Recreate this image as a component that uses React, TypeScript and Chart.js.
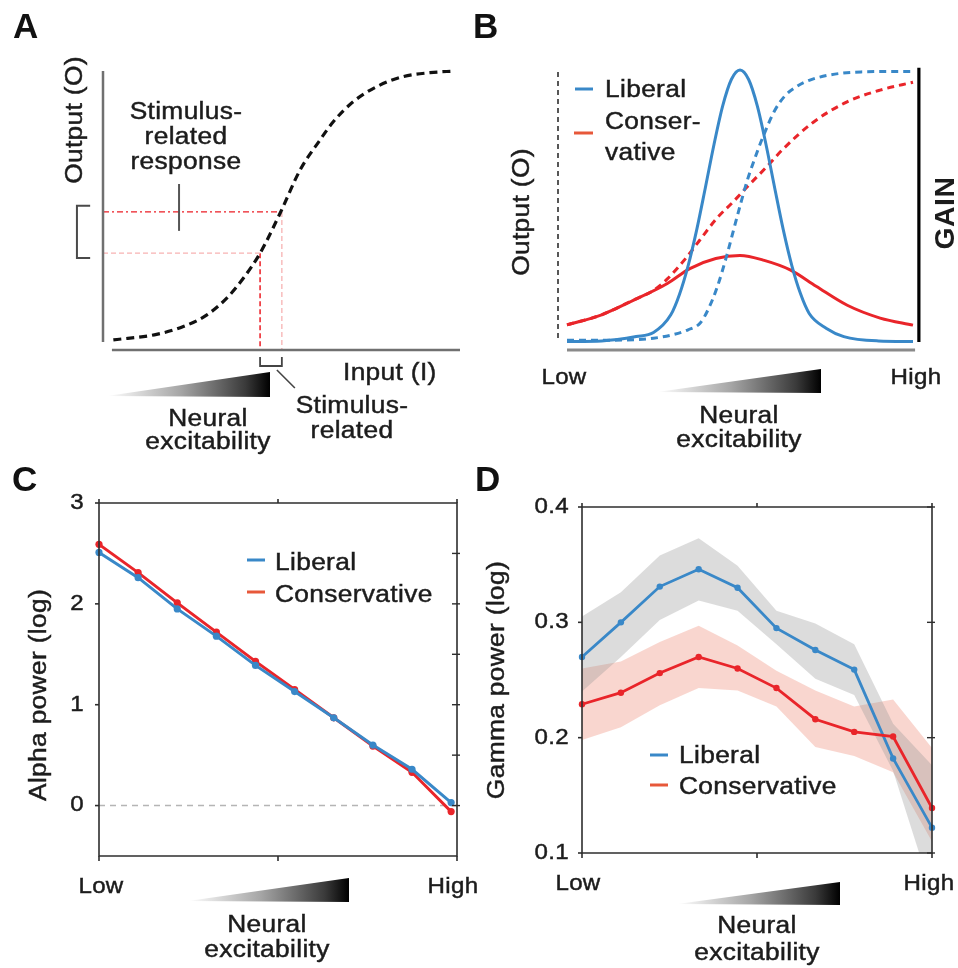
import React, { useEffect, useRef } from 'react';
import { Chart, registerables } from 'chart.js';

Chart.register(...registerables);

const W = 958;
const H = 968;
const FONT = '"Liberation Sans", Arial, Helvetica, sans-serif';
const INK = '#1c1c1c';
const BLUE = 'rgb(57,136,200)';
const RED = 'rgb(233,37,42)';
const LEGEND_RED = 'rgb(231,88,58)';
const BOX = '#2e2e2e';

// ---------- Panel A: input-output sigmoid ----------
const aInput = [0.29, 1.5, 2.25, 2.9, 3.46, 3.93, 4.4, 4.96, 5.52, 6.08, 6.45, 7.01, 7.67, 8.41, 9.16, 9.86];
const aOutput = [0.036, 0.056, 0.084, 0.125, 0.185, 0.257, 0.347, 0.49, 0.645, 0.753, 0.818, 0.89, 0.944, 0.98, 0.994, 1.0];
const aStimInput = [4.4, 5.01];
const aStimOutput = [0.347, 0.495];

// ---------- Panel B: model curves ----------
const bLiberalX = [0, 0.1, 0.2, 0.25, 0.3, 0.325, 0.35, 0.375, 0.4, 0.425, 0.45, 0.475, 0.5, 0.525, 0.55, 0.575, 0.6, 0.625, 0.65, 0.675, 0.7, 0.75, 0.8, 0.9, 1.0];
const bLiberalGain = [0.002, 0.004, 0.02, 0.035, 0.1, 0.175, 0.28, 0.413, 0.568, 0.727, 0.868, 0.965, 1.0, 0.965, 0.868, 0.727, 0.568, 0.413, 0.28, 0.177, 0.105, 0.05, 0.02, 0.004, 0.002];
const bLiberalOutX = [0, 0.1, 0.2, 0.25, 0.3, 0.35, 0.385, 0.41, 0.435, 0.46, 0.48, 0.5, 0.52, 0.54, 0.565, 0.6, 0.63, 0.665, 0.7, 0.76, 0.85, 1.0];
const bLiberalOut = [0.006, 0.006, 0.009, 0.014, 0.025, 0.045, 0.07, 0.125, 0.205, 0.31, 0.405, 0.5, 0.59, 0.665, 0.75, 0.85, 0.905, 0.94, 0.962, 0.982, 0.993, 0.995];
const bConservX = [0, 0.1, 0.19, 0.29, 0.355, 0.43, 0.5, 0.57, 0.645, 0.72, 0.81, 0.905, 1.0];
const bConservGain = [0.063, 0.1, 0.152, 0.215, 0.27, 0.307, 0.318, 0.3, 0.265, 0.205, 0.135, 0.088, 0.062];
const bConservOutX = [0, 0.1, 0.19, 0.25, 0.29, 0.346, 0.384, 0.433, 0.48, 0.519, 0.577, 0.625, 0.712, 0.808, 0.905, 1.0];
const bConservOut = [0.063, 0.1, 0.153, 0.19, 0.232, 0.312, 0.375, 0.455, 0.515, 0.568, 0.644, 0.71, 0.808, 0.882, 0.926, 0.955];

// ---------- Panel C: alpha power ----------
const levels = [0, 1, 2, 3, 4, 5, 6, 7, 8, 9];
const cLiberal = [2.51, 2.26, 1.95, 1.68, 1.39, 1.13, 0.87, 0.6, 0.36, 0.03];
const cConservative = [2.59, 2.31, 2.01, 1.72, 1.43, 1.15, 0.87, 0.59, 0.33, -0.06];
const cTicks = [0, 1, 2, 3];
const cRightTicks = [0, 0.5, 1, 1.5, 2, 2.5];

// ---------- Panel D: gamma power ----------
const dLiberal = [0.27, 0.3, 0.331, 0.346, 0.33, 0.295, 0.276, 0.259, 0.182, 0.122];
const dLiberalUpper = [0.305, 0.326, 0.358, 0.373, 0.349, 0.31, 0.299, 0.281, 0.212, 0.176];
const dLiberalLower = [0.24, 0.27, 0.302, 0.319, 0.31, 0.281, 0.251, 0.237, 0.171, 0.065];
const dConservative = [0.229, 0.239, 0.256, 0.27, 0.26, 0.243, 0.216, 0.205, 0.201, 0.139];
const dConservativeUpper = [0.26, 0.266, 0.283, 0.297, 0.28, 0.258, 0.241, 0.227, 0.233, 0.191];
const dConservativeLower = [0.198, 0.209, 0.228, 0.243, 0.241, 0.227, 0.192, 0.184, 0.17, 0.11];
const dTicks = [0.1, 0.2, 0.3, 0.4];
const dTickLabels = ['0.1', '0.2', '0.3', '0.4'];

type Pt = { x: number; y: number };
const pts = (xs: number[], ys: number[]): Pt[] => xs.map((x, i) => ({ x, y: ys[i] }));

type TextOpts = {
  size?: number;
  bold?: boolean;
  align?: CanvasTextAlign;
  baseline?: CanvasTextBaseline;
  rotate?: boolean;
  spacing?: number;
  stretch?: number;
  color?: string;
};

function drawText(ctx: CanvasRenderingContext2D, str: string, x: number, y: number, o: TextOpts = {}) {
  const size = o.size ?? 23.5;
  ctx.save();
  ctx.font = `${o.bold ? 'bold ' : ''}${size}px ${FONT}`;
  (ctx as any).letterSpacing = `${o.spacing ?? 0.3}px`;
  ctx.fillStyle = o.color ?? INK;
  ctx.strokeStyle = o.color ?? INK;
  ctx.lineWidth = o.bold ? 0 : 0.45;
  ctx.textAlign = o.align ?? 'left';
  ctx.textBaseline = o.baseline ?? 'alphabetic';
  ctx.translate(x, y);
  if (o.rotate) ctx.rotate(-Math.PI / 2);
  ctx.scale(o.stretch ?? 1.12, 1);
  ctx.fillText(str, 0, 0);
  if (!o.bold) ctx.strokeText(str, 0, 0);
  ctx.restore();
}

function seg(ctx: CanvasRenderingContext2D, p: number[][], color: string, width: number, dash: number[] = []) {
  ctx.save();
  ctx.strokeStyle = color;
  ctx.lineWidth = width;
  ctx.setLineDash(dash);
  ctx.beginPath();
  p.forEach(([x, y], i) => (i ? ctx.lineTo(x, y) : ctx.moveTo(x, y)));
  ctx.stroke();
  ctx.restore();
}

function wedge(ctx: CanvasRenderingContext2D, x0: number, x1: number, yb: number, yt: number) {
  const g = ctx.createLinearGradient(x0, 0, x1, 0);
  g.addColorStop(0, '#ffffff');
  g.addColorStop(0.45, '#a6a6a6');
  g.addColorStop(0.85, '#3a3a3a');
  g.addColorStop(1, '#000000');
  ctx.save();
  ctx.fillStyle = g;
  ctx.beginPath();
  ctx.moveTo(x0, yb - 1);
  ctx.lineTo(x1, yt);
  ctx.lineTo(x1, yb);
  ctx.closePath();
  ctx.fill();
  ctx.restore();
}

function excitability(ctx: CanvasRenderingContext2D, cx: number, b1: number, b2: number) {
  drawText(ctx, 'Neural', cx, b1, { align: 'center' });
  drawText(ctx, 'excitability', cx, b2, { align: 'center' });
}

function panelLetter(ctx: CanvasRenderingContext2D, s: string, x: number, y: number) {
  drawText(ctx, s, x, y, { size: 35, bold: true, spacing: 0, stretch: 1, color: '#111' });
}

const ds = (data: Pt[], color: string, width: number, extra: Record<string, unknown> = {}) => ({
  data,
  borderColor: color,
  backgroundColor: color,
  borderWidth: width,
  pointRadius: 0,
  fill: false,
  tension: 0,
  clip: false as const,
  ...extra,
});

function baseOptions(pad: { left: number; top: number; right: number; bottom: number }, xr: number[], yr: number[]) {
  return {
    responsive: false,
    animation: false as const,
    events: [] as any[],
    layout: { padding: pad },
    plugins: { legend: { display: false }, tooltip: { enabled: false } },
    scales: {
      x: { type: 'linear' as const, display: false, min: xr[0], max: xr[1] },
      y: { type: 'linear' as const, display: false, min: yr[0], max: yr[1] },
    },
  };
}

function scalesOf(chart: any) {
  const xs = chart.scales.x;
  const ys = chart.scales.y;
  return {
    X: (v: number) => xs.getPixelForValue(v) as number,
    Y: (v: number) => ys.getPixelForValue(v) as number,
  };
}

// ---------- plugins ----------
const panelAPlugin = {
  id: 'panelA',
  afterDraw(chart: any) {
    const ctx: CanvasRenderingContext2D = chart.ctx;
    const { X, Y } = scalesOf(chart);
    seg(ctx, [[X(0), Y(1.0)], [X(0), Y(0.029)]], '#707070', 2.5);
    seg(ctx, [[X(0.25), Y(0)], [X(10), Y(0)]], '#707070', 2.5);
    // output bracket
    seg(ctx, [[X(-0.36), Y(0.517)], [X(-0.73), Y(0.517)], [X(-0.73), Y(0.33)], [X(-0.36), Y(0.33)]], '#4a4a4a', 2);
    // pointer tick
    seg(ctx, [[X(2.13), Y(0.595)], [X(2.13), Y(0.427)]], '#555555', 2);
    // input bracket
    const y0 = Y(0);
    const i1 = X(aStimInput[0]);
    const i2 = X(aStimInput[1]);
    seg(ctx, [[i1, y0 + 7], [i1, y0 + 16], [i2, y0 + 16], [i2, y0 + 7]], '#444444', 1.8);
    seg(ctx, [[i2 - 5, y0 + 20], [i2 + 13, y0 + 38]], '#444444', 1.6);

    panelLetter(ctx, 'A', 13, 38);
    drawText(ctx, 'Output (O)', 76, 120, { rotate: true, align: 'center', baseline: 'middle' });
    drawText(ctx, 'Stimulus-', 186, 119, { align: 'center' });
    drawText(ctx, 'related', 186, 144, { align: 'center' });
    drawText(ctx, 'response', 186, 169, { align: 'center' });
    drawText(ctx, 'Input (I)', 343, 380);
    drawText(ctx, 'Stimulus-', 352, 413, { align: 'center' });
    drawText(ctx, 'related', 352, 438, { align: 'center' });
    wedge(ctx, 107, 270, 397, 372);
    excitability(ctx, 208, 426, 449);
  },
};

const panelBPlugin = {
  id: 'panelB',
  afterDraw(chart: any) {
    const ctx: CanvasRenderingContext2D = chart.ctx;
    const { X, Y } = scalesOf(chart);
    seg(ctx, [[X(-0.026), Y(0.993)], [X(-0.026), Y(0)]], '#111', 1.4, [5, 4]);
    seg(ctx, [[X(1.017), Y(1.008)], [X(1.017), Y(0)]], '#000', 3.2);
    seg(ctx, [[X(0), Y(-0.0294)], [X(1.006), Y(-0.0294)]], '#8a8a8a', 3);

    seg(ctx, [[575, 89], [593, 89]], BLUE, 3);
    seg(ctx, [[574, 133], [593, 133]], LEGEND_RED, 3);
    drawText(ctx, 'Liberal', 605, 97);
    drawText(ctx, 'Conser-', 605, 129);
    drawText(ctx, 'vative', 605, 160);

    panelLetter(ctx, 'B', 473, 38);
    drawText(ctx, 'Output (O)', 523, 212, { rotate: true, align: 'center', baseline: 'middle' });
    drawText(ctx, 'GAIN', 947, 213, { rotate: true, align: 'center', baseline: 'middle', bold: true, size: 27, spacing: 0.5, stretch: 1.05 });
    drawText(ctx, 'Low', 564, 384, { align: 'center', size: 21.5 });
    drawText(ctx, 'High', 916, 384, { align: 'center', size: 21.5 });
    wedge(ctx, 657, 821, 393, 369);
    excitability(ctx, 739, 423, 447);
  },
};

const panelCPlugin = {
  id: 'panelC',
  afterDraw(chart: any) {
    const ctx: CanvasRenderingContext2D = chart.ctx;
    const { X, Y } = scalesOf(chart);
    const l = X(0), r = X(9.15), t = Y(3), b = Y(-0.5), m = X(4.575);
    seg(ctx, [[l, t], [r, t], [r, b], [l, b], [l, t]], BOX, 1.6);
    cTicks.forEach((v) => {
      seg(ctx, [[l - 4, Y(v)], [l, Y(v)]], BOX, 1.6);
      drawText(ctx, String(v), 84, Y(v), { size: 21.5, align: 'right', baseline: 'middle' });
    });
    cRightTicks.forEach((v) => seg(ctx, [[r - 5, Y(v)], [r + 3, Y(v)]], BOX, 1.4));
    [l, m, r].forEach((x) => {
      seg(ctx, [[x, b], [x, b + 5]], BOX, 1.6);
      seg(ctx, [[x, t - 4], [x, t]], BOX, 1.6);
    });

    seg(ctx, [[247, 560], [265, 560]], BLUE, 3);
    seg(ctx, [[247, 592], [265, 592]], LEGEND_RED, 3);
    drawText(ctx, 'Liberal', 275, 570);
    drawText(ctx, 'Conservative', 275, 602);

    panelLetter(ctx, 'C', 12, 491);
    drawText(ctx, 'Alpha power (log)', 40, 695, { rotate: true, align: 'center', baseline: 'middle' });
    drawText(ctx, 'Low', 101, 893, { align: 'center', size: 21.5 });
    drawText(ctx, 'High', 453, 893, { align: 'center', size: 21.5 });
    wedge(ctx, 188, 349, 902, 878);
    excitability(ctx, 267, 932, 957);
  },
};

const panelDPlugin = {
  id: 'panelD',
  afterDraw(chart: any) {
    const ctx: CanvasRenderingContext2D = chart.ctx;
    const { X, Y } = scalesOf(chart);
    const l = X(0), r = X(9), t = Y(0.4), b = Y(0.1), m = X(4.5);
    seg(ctx, [[l, t], [r, t], [r, b], [l, b], [l, t]], BOX, 1.6);
    dTicks.forEach((v, i) => {
      seg(ctx, [[l - 4, Y(v)], [l, Y(v)]], BOX, 1.6);
      seg(ctx, [[r - 5, Y(v)], [r + 3, Y(v)]], BOX, 1.4);
      drawText(ctx, dTickLabels[i], 569, Y(v), { size: 21.5, align: 'right', baseline: 'middle' });
    });
    [l, m, r].forEach((x) => {
      seg(ctx, [[x, b], [x, b + 5]], BOX, 1.6);
      seg(ctx, [[x, t - 4], [x, t]], BOX, 1.6);
    });

    seg(ctx, [[650, 755], [668, 755]], BLUE, 3);
    seg(ctx, [[650, 785], [668, 785]], LEGEND_RED, 3);
    drawText(ctx, 'Liberal', 679, 763);
    drawText(ctx, 'Conservative', 679, 794);

    panelLetter(ctx, 'D', 475, 491);
    drawText(ctx, 'Gamma power (log)', 498, 680, { rotate: true, align: 'center', baseline: 'middle' });
    drawText(ctx, 'Low', 578, 890, { align: 'center', size: 21.5 });
    drawText(ctx, 'High', 929, 890, { align: 'center', size: 21.5 });
    wedge(ctx, 677, 840, 905, 882);
    excitability(ctx, 757, 933, 960);
  },
};

// ---------- configs ----------
function configA(): any {
  return {
    type: 'line',
    data: {
      datasets: [
        { ...ds(pts(aInput, aOutput), '#111111', 3.2), borderDash: [8, 5], cubicInterpolationMode: 'monotone', order: 0 },
        { ...ds([{ x: 0, y: aStimOutput[1] }, { x: aStimInput[1], y: aStimOutput[1] }], 'rgb(236,28,36)', 1.4), borderDash: [6, 3, 2, 3], order: 1 },
        { ...ds([{ x: 0, y: aStimOutput[0] }, { x: aStimInput[0], y: aStimOutput[0] }], 'rgb(247,178,178)', 1.3), borderDash: [5, 3], order: 1 },
        { ...ds([{ x: aStimInput[0], y: aStimOutput[0] }, { x: aStimInput[0], y: 0 }], 'rgb(236,28,36)', 1.5), borderDash: [5, 3], order: 1 },
        { ...ds([{ x: aStimInput[1], y: aStimOutput[1] }, { x: aStimInput[1], y: 0 }], 'rgb(247,178,178)', 1.3), borderDash: [5, 3], order: 1 },
      ],
    },
    options: baseOptions({ left: 103, top: 71, right: 498, bottom: 618 }, [0, 10], [0, 1]),
    plugins: [panelAPlugin],
  };
}

function configB(): any {
  return {
    type: 'line',
    data: {
      datasets: [
        { ...ds(pts(bLiberalX, bLiberalGain), BLUE, 3), cubicInterpolationMode: 'monotone', order: 0 },
        { ...ds(pts(bConservX, bConservGain), RED, 3), cubicInterpolationMode: 'monotone', order: 2 },
        { ...ds(pts(bLiberalOutX, bLiberalOut), BLUE, 3), borderDash: [7, 5], cubicInterpolationMode: 'monotone', order: 1 },
        { ...ds(pts(bConservOutX, bConservOut), RED, 3), borderDash: [7, 5], cubicInterpolationMode: 'monotone', order: 3 },
      ],
    },
    options: baseOptions({ left: 567, top: 70, right: 45, bottom: 618 }, [0, 1], [-0.0294, 1]),
    plugins: [panelBPlugin],
  };
}

function configC(): any {
  const line = (ys: number[], color: string, order: number) => ({
    ...ds(pts(levels, ys), color, 3),
    pointRadius: 3.6,
    pointBorderWidth: 0,
    pointBackgroundColor: color,
    order,
  });
  return {
    type: 'line',
    data: {
      datasets: [
        line(cLiberal, BLUE, 0),
        line(cConservative, RED, 1),
        { ...ds([{ x: 0, y: 0 }, { x: 9.15, y: 0 }], '#b5b5b5', 1.5), borderDash: [6, 5], order: 2 },
      ],
    },
    options: baseOptions({ left: 99, top: 503, right: 501, bottom: 112 }, [0, 9.15], [-0.5, 3]),
    plugins: [panelCPlugin],
  };
}

function configD(): any {
  const line = (ys: number[], color: string, order: number) => ({
    ...ds(pts(levels, ys), color, 2.8),
    pointRadius: 3.2,
    pointBorderWidth: 0,
    pointBackgroundColor: color,
    order,
  });
  const band = (ys: number[], fillColor: string | false) => ({
    data: pts(levels, ys),
    borderWidth: 0,
    borderColor: 'rgba(0,0,0,0)',
    pointRadius: 0,
    tension: 0,
    fill: fillColor ? '+1' : false,
    backgroundColor: fillColor || 'rgba(0,0,0,0)',
    order: 5,
  });
  return {
    type: 'line',
    data: {
      datasets: [
        band(dLiberalUpper, 'rgba(150,150,150,0.33)'),
        band(dLiberalLower, false),
        band(dConservativeUpper, 'rgba(234,120,95,0.3)'),
        band(dConservativeLower, false),
        line(dLiberal, BLUE, 1),
        line(dConservative, RED, 0),
      ],
    },
    options: baseOptions({ left: 582, top: 507, right: 26, bottom: 115 }, [0, 9], [0.1, 0.4]),
    plugins: [panelDPlugin],
  };
}

function Panel({ make }: { make: () => any }) {
  const ref = useRef<HTMLCanvasElement>(null);
  useEffect(() => {
    const chart = new Chart(ref.current as HTMLCanvasElement, make());
    return () => chart.destroy();
  }, [make]);
  return (
    <canvas
      ref={ref}
      width={W}
      height={H}
      style={{ position: 'absolute', left: 0, top: 0, width: W, height: H }}
    />
  );
}

export default function App() {
  return (
    <div
      style={{
        position: 'absolute',
        left: 0,
        top: 0,
        width: W,
        height: H,
        background: '#ffffff',
        overflow: 'hidden',
      }}
    >
      <Panel make={configA} />
      <Panel make={configB} />
      <Panel make={configC} />
      <Panel make={configD} />
    </div>
  );
}
